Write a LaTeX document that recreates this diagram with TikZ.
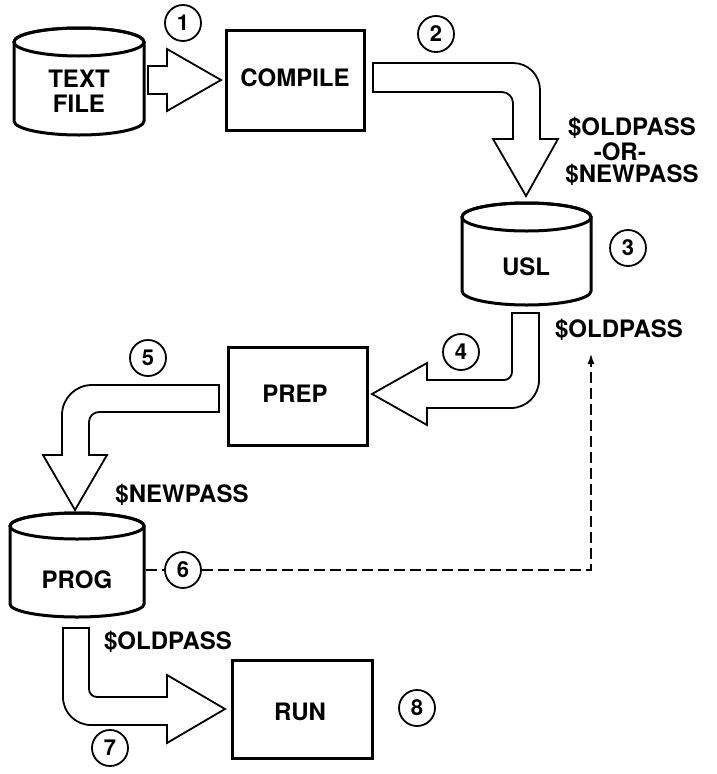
\documentclass[tikz,border=0pt]{standalone}
\usepackage{fontspec}
\setmainfont{TeX Gyre Heros}
\usetikzlibrary{arrows.meta}
\tikzset{
  blockarrow/.style={draw=black, line width=1.8pt, fill=white, line join=miter},
  box/.style={draw=black, line width=3pt, fill=white},
  cyl/.style={draw=black, line width=3pt, fill=white},
  lbl/.style={font=\fontsize{24}{25}\selectfont\bfseries, inner sep=0pt},
  num/.style={circle, draw=black, line width=1.8pt, minimum size=36pt, inner sep=0pt,
              font=\fontsize{22}{22}\selectfont\bfseries},
  dashline/.style={line width=2.4pt, dash pattern=on 11pt off 5pt},
}
% cylinder: L, R, top centre y, bottom centre y, ry
\newcommand{\mycyl}[5]{%
  \pgfmathsetmacro{\cx}{(#1+#2)/2}%
  \pgfmathsetmacro{\rx}{(#2-#1)/2}%
  \pgfmathsetmacro{\kx}{0.552*\rx}%
  \pgfmathsetmacro{\ky}{0.552*#5}%
  \filldraw[cyl] (#1,#3) -- (#1,#4)
     .. controls (#1,#4+\ky) and (\cx-\kx,#4+#5) .. (\cx,#4+#5)
     .. controls (\cx+\kx,#4+#5) and (#2,#4+\ky) .. (#2,#4)
     -- (#2,#3)
     .. controls (#2,#3-\ky) and (\cx+\kx,#3-#5) .. (\cx,#3-#5)
     .. controls (\cx-\kx,#3-#5) and (#1,#3-\ky) .. (#1,#3) -- cycle;
  \draw[cyl, fill=none] (\cx,#3) ellipse [x radius=\rx, y radius=#5];
}
\begin{document}
\begin{tikzpicture}[x=1pt, y=-1pt]
\useasboundingbox (0,0) rectangle (716,774);

% ---- storage cylinders
\mycyl{14}{144}{42}{121}{14}
\node[lbl, align=center] (textfile) at (79,91) {TEXT\\FILE};
\mycyl{462}{591}{217}{291}{14}
\node[lbl] (usl) at (526,267) {USL};
\mycyl{10}{144}{526}{604}{13}
\node[lbl] (prog) at (77,580) {PROG};

% ---- boxes
\node[box, minimum width=138pt, minimum height=100pt] (compile) at (295,80) {};
\node[lbl] at (295,78) {COMPILE};
\node[box, minimum width=139pt, minimum height=98pt] (prep) at (297.5,396) {};
\node[lbl] at (295,394) {PREP};
\node[box, minimum width=140pt, minimum height=98pt] (run) at (302,709) {};
\node[lbl] at (300,712) {RUN};

% ---- block arrows
% 1
\filldraw[blockarrow] (148,66) -- (167,66) -- (167,49) -- (221,80) -- (167,111)
  -- (167,94) -- (148,94) -- cycle;
% 2
\filldraw[blockarrow] (373,63) -- (513,63) .. controls (528,63) and (540,75) .. (540,90)
  -- (540,139) -- (558,139) -- (526,196) -- (493,139) -- (513,139) -- (513,103)
  .. controls (513,97) and (508,92) .. (502,92) -- (373,92) -- cycle;
% 4
\filldraw[blockarrow] (512,313) -- (539,313) -- (539,380)
  .. controls (539,395.5) and (526.5,408) .. (511,408) -- (427,408) -- (427,425)
  -- (372,394) -- (427,363) -- (427,380) -- (504,380)
  .. controls (508.4,380) and (512,376.4) .. (512,372) -- cycle;
% 5
\filldraw[blockarrow] (219,385) -- (92,385) .. controls (75.4,385) and (62,398.4) .. (62,415)
  -- (62,455) -- (43,455) -- (75,510) -- (107,455) -- (89,455) -- (89,422)
  .. controls (89,416.5) and (93.5,412) .. (99,412) -- (219,412) -- cycle;
% 7
\filldraw[blockarrow] (63,628) -- (63,697) .. controls (63,712.5) and (75.5,725) .. (91,725)
  -- (167,725) -- (167,743) -- (225,709) -- (167,675) -- (167,697) -- (97,697)
  .. controls (92.6,697) and (89,693.4) .. (89,689) -- (89,628) -- cycle;

% ---- numbered circles
\node[num] (n1) at (183,23) {1};
\node[num] (n2) at (436,34) {2};
\node[num] (n3) at (628,248) {3};
\node[num] (n4) at (461,352) {4};
\node[num] (n5) at (148,358) {5};
\node[num] (n6) at (183,570) {6};
\node[num] (n7) at (110,748) {7};
\node[num] (n8) at (417,708) {8};

% ---- labels
\node[lbl] (old1) at (632,128) {\$OLDPASS};
\node[lbl] (or)   at (620,152) {-OR-};
\node[lbl] (new1) at (632,175) {\$NEWPASS};
\node[lbl] (old2) at (619,330) {\$OLDPASS};
\node[lbl] (new2) at (182,495) {\$NEWPASS};
\node[lbl] (old3) at (168,642) {\$OLDPASS};

% ---- dashed connector
\coordinate (progR) at (146,570);
\coordinate (corner) at (591,570);
\coordinate (tip) at (591,353);
\draw[dashline] (progR) -- (n6.west);
\draw[dashline, -{Latex[length=11pt, width=7pt]}] (n6.east) -- (corner) -- (tip);
\end{tikzpicture}
\end{document}
